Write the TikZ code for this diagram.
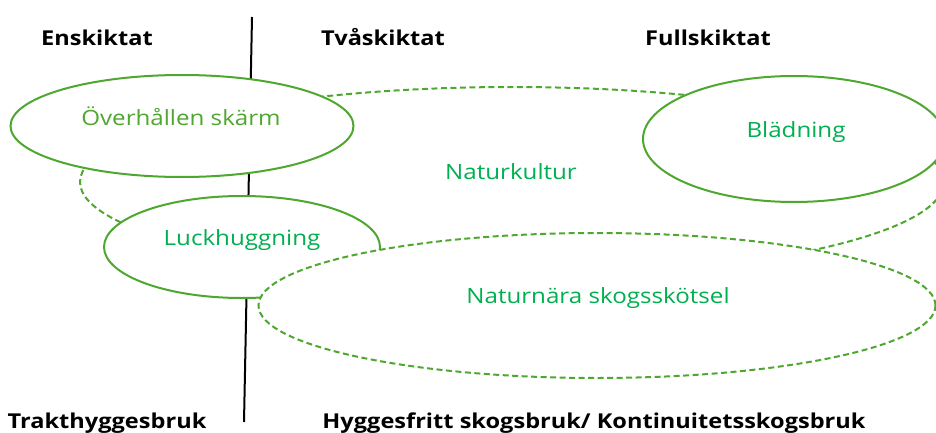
\documentclass[tikz,border=0pt]{standalone}
\usepackage{fontspec}
\setmainfont[FakeStretch=1.15]{Open Sans}
\usetikzlibrary{shapes.geometric}
\definecolor{kant}{HTML}{4EA72E}
\definecolor{gron}{HTML}{00B050}
\begin{document}
\begin{tikzpicture}[x=1pt,y=-1pt,
    oval/.style={ellipse,draw=kant,line width=2pt,fill=white,inner sep=0pt},
    ovaldash/.style={oval,dash pattern=on 6pt off 3.5pt},
    metod/.style={anchor=base,text=gron,font=\fontsize{21}{25}\selectfont},
    rubrik/.style={anchor=base,font=\fontsize{20.5}{25}\selectfont\bfseries}]
    \useasboundingbox (0,0) rectangle (936,433);
    % ovals, back to front
    \node[ovaldash,fill=none,minimum width=864pt,minimum height=190pt] (kultur) at (512,182) {};
    \coordinate (topp) at (252,17);
    \coordinate (botten) at (244,422);
    \draw[line width=2pt] (topp) -- (botten);
    \node[oval,minimum width=302pt,minimum height=126pt] (blad) at (794,139) {};
    \node[oval,minimum width=343pt,minimum height=102pt] (skarm) at (182,126) {};
    \node[oval,minimum width=276pt,minimum height=102pt] (luck) at (242,247) {};
    \node[ovaldash,minimum width=677pt,minimum height=145pt] (nara) at (597,305.5) {};
    % texts
    \draw (181,125) node[metod,text=kant] (skarmtext) {Överhållen skärm};
    \draw (242,245) node[metod] (lucktext) {Luckhuggning};
    \draw (796,137) node[metod] (bladtext) {Blädning};
    \draw (511,179) node[metod] (kulturtext) {Naturkultur};
    \draw (598,303) node[metod] (naratext) {Naturnära skogsskötsel};
    \draw (97,46) node[rubrik] (en) {Enskiktat};
    \draw (383,46) node[rubrik] (tva) {Tvåskiktat};
    \draw (708,46) node[rubrik] (full) {Fullskiktat};
    \draw (107,428) node[rubrik] (trakt) {Trakthyggesbruk};
    \draw (594,428) node[rubrik] (hygg) {Hyggesfritt skogsbruk/ Kontinuitetsskogsbruk};
\end{tikzpicture}
\end{document}
